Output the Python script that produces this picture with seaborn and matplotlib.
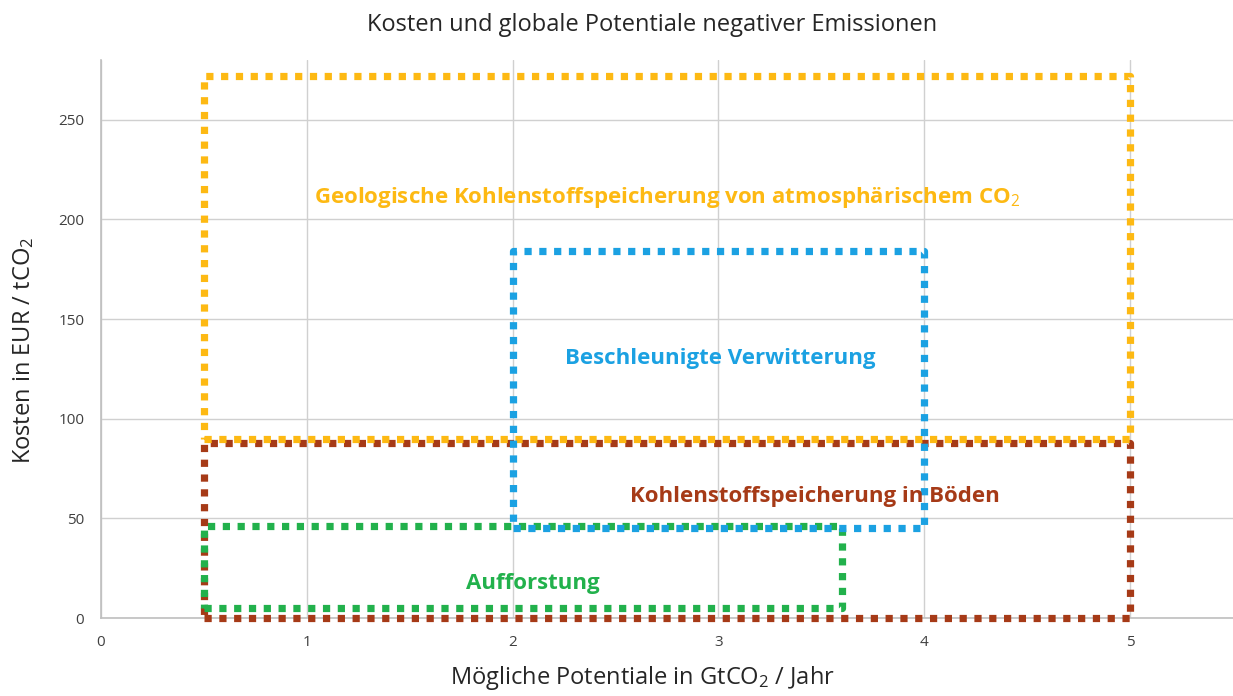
import matplotlib
matplotlib.use("Agg")
import matplotlib.pyplot as plt
import seaborn as sns
import pandas as pd

# ---- data ----
categories = ["Kohlenstoffspeicherung in Böden",
              "Geologische Kohlenstoffspeicherung von atmosphärischem CO$_2$",
              "Aufforstung",
              "Beschleunigte Verwitterung"]
x_min = [0.5, 0.5, 0.5, 2.0]
x_max = [5.0, 5.0, 3.6, 4.0]
cost_min = [0, 90, 5, 45]
cost_max = [88, 272, 46, 184]
label_x = [3.47, 2.75, 2.1, 3.01]
label_y = [61, 211, 17.5, 130]
colors = ["#A63A17", "#FDB913", "#22B14C", "#1BA1E2"]
x_ticks = [0, 1, 2, 3, 4, 5]
y_ticks = [0, 50, 100, 150, 200, 250]

sns.set_theme(style="whitegrid")
plt.rcParams['font.family'] = ['Open Sans', 'DejaVu Sans']
plt.rcParams['mathtext.fontset'] = 'custom'
plt.rcParams['mathtext.rm'] = 'Open Sans'
plt.rcParams['mathtext.it'] = 'Open Sans:italic'
plt.rcParams['mathtext.bf'] = 'Open Sans:bold'

fig = plt.figure(figsize=(12.33, 6.96), dpi=100)
ax = fig.add_axes([101/1233, 1 - 618/696, 1 - 101/1233, (618 - 60)/696])

for name, a, b, c, d, col in zip(categories, x_min, x_max, cost_min, cost_max, colors):
    df = pd.DataFrame({"x": [a, b, b, a, a], "y": [c, c, d, d, c]})
    sns.lineplot(data=df, x="x", y="y", sort=False, estimator=None, ax=ax,
                 color=col, linewidth=5.2, linestyle=(0, (1.0, 1.05)),
                 dash_capstyle="butt", zorder=3, clip_on=False)

for name, lx, ly, col in zip(categories, label_x, label_y, colors):
    ax.text(lx, ly, name, color=col, fontsize=16, fontweight="bold",
            ha="center", va="center", zorder=4)

ax.set_xlim(0, 5.5)
ax.set_ylim(0, 280)
ax.set_xticks(x_ticks)
ax.set_yticks(y_ticks)
ax.tick_params(axis="both", labelsize=11, colors="#404040", length=0, pad=12)
ax.grid(True, color="#D0D0D0", linewidth=1)
for s in ["top", "right"]:
    ax.spines[s].set_visible(False)
for s in ["left", "bottom"]:
    ax.spines[s].set_visible(True)
    ax.spines[s].set_color("#BFBFBF")
    ax.spines[s].set_linewidth(1.2)
    ax.spines[s].set_zorder(2)
ax.set_xlabel("")
ax.set_ylabel("")

fig.text(652/1233, 1 - 25/696, "Kosten und globale Potentiale negativer Emissionen",
         ha="center", va="center", fontsize=17, color="#262626")
fig.text(642/1233, 1 - 678/696, "Mögliche Potentiale in GtCO$_2$ / Jahr",
         ha="center", va="center", fontsize=17, color="#262626")
fig.text(24/1233, 1 - 350/696, "Kosten in EUR / tCO$_2$", rotation=90,
         ha="center", va="center", fontsize=17, color="#262626")

fig.savefig("out.png", dpi=100, facecolor="white")
